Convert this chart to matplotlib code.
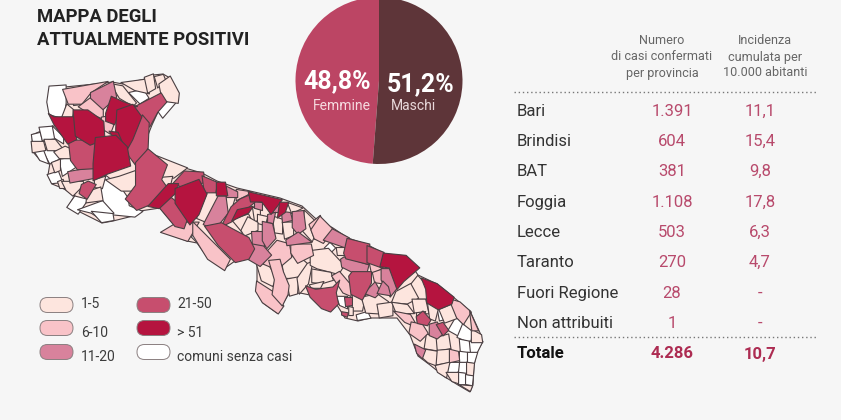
import matplotlib
matplotlib.use('Agg')
from matplotlib import pyplot as plt
from matplotlib.patches import FancyBboxPatch

plt.rcParams['font.family'] = ['Roboto', 'DejaVu Sans']

BG = '#f6f6f6'
MAP_COLORS = ['#ffffff', '#fde5de', '#f9c3c8', '#d8829c', '#c74e6e', '#b5143f']
GROW = 1.14  # traced shapes sit a bit inside their borders

# whole region outline, in pixel units of the picture
regione = [(48,102),(50,88),(65,87),(105,83),(112,82),(123,84),(145,79),(153,75),(163,74),(170,78),(178,93),
           (177,102),(165,104),(158,112),(152,125),(148,135),(147,147),(148,153),(165,167),(185,168),(202,173),
           (217,181),(237,188),(250,191),(280,198),(302,206),(315,218),(333,228),(348,238),(368,245),(385,254),
           (405,256),(418,275),(437,284),(452,296),(470,311),(481,335),(482,343),(477,352),(474,365),(473,385),
           (470,392),(458,385),(445,377),(430,365),(418,356),(410,335),(397,318),(370,318),(358,321),(345,318),
           (337,305),(322,308),(310,295),(300,293),(288,295),(282,305),(277,313),(263,303),(257,292),(257,263),
           (247,258),(235,261),(225,268),(208,258),(197,243),(187,241),(163,232),(175,226),(160,208),(140,211),
           (133,216),(113,221),(102,223),(80,212),(68,207),(75,195),(62,188),(52,184),(48,175),(50,163),(40,160),
           (33,152),(32,135),(50,127),(58,125),(50,115)]

# comuni in pixel units (class = number of cases)
comuni_senza_casi = [
    [(50,88),(65,87),(65,103),(63,117),(50,113),(48,102)],
    [(73,97),(80,98),(82,104),(74,105)],
    [(130,93),(143,90),(148,98),(140,103)],
    [(158,110),(165,102),(175,103),(163,117)],
    [(32,135),(40,133),(42,142),(33,142)],
    [(40,128),(52,127),(55,138),(43,140)],
    [(53,127),(63,137),(63,143),(55,138)],
    [(43,150),(53,150),(60,158),(50,163)],
    [(35,152),(43,150),(48,163),(40,160)],
    [(60,160),(72,158),(75,167),(63,175)],
    [(48,175),(58,172),(62,182),(52,183)],
    [(75,197),(87,200),(78,213),(68,207)],
    [(102,190),(107,178),(120,188),(127,198),(128,205),(140,210),(133,215),(113,213),(103,202)],
    [(80,210),(102,202),(112,213),(103,220),(92,213)],
    [(93,212),(112,214),(113,220),(102,222)],
    [(192,237),(198,230),(202,240),(197,242)],
    [(325,248),(330,243),(335,248),(330,253)],
    [(357,315),(367,312),(370,318),(358,320)],
    [(337,297),(347,297),(347,308),(340,305)],
    [(438,309),(450,304),(448,318),(440,320)],
    [(456,318),(463,325),(458,335),(449,330)],
    [(463,325),(472,332),(470,342),(458,337)],
    [(460,340),(470,342),(470,352),(461,352)],
    [(470,342),(482,342),(477,352),(471,352)],
    [(460,352),(468,353),(468,362),(460,362)],
    [(468,353),(477,353),(474,363),(468,362)],
    [(449,363),(460,363),(458,372),(447,372)],
    [(460,363),(467,363),(466,373),(459,372)],
    [(458,373),(466,374),(466,384),(459,384)],
    [(466,375),(473,376),(472,385),(466,384)],
]
comuni_1_5 = [
    [(112,85),(123,87),(135,102),(132,105),(120,98)],
    [(123,83),(145,80),(148,93),(135,90)],
    [(145,78),(153,75),(155,88),(148,92)],
    [(155,77),(163,75),(165,80),(158,87)],
    [(160,85),(170,78),(178,93),(177,102),(163,100),(162,95)],
    [(62,118),(67,105),(73,110),(72,117)],
    [(32,142),(43,142),(45,150),(33,152)],
    [(45,140),(55,140),(63,150),(48,150)],
    [(55,152),(65,147),(72,150),(70,158),(60,158)],
    [(52,163),(60,160),(60,170),(55,172)],
    [(58,182),(63,180),(65,188),(60,188)],
    [(63,182),(82,182),(83,185),(73,195),(67,190)],
    [(95,180),(105,177),(102,188),(95,187)],
    [(88,192),(100,188),(102,200),(87,202)],
    [(108,180),(120,177),(140,170),(140,185),(132,190),(122,190)],
    [(152,155),(185,168),(173,177),(162,177),(160,167)],
    [(160,178),(172,177),(170,185),(163,187)],
    [(208,193),(218,195),(210,222),(198,217)],
    [(225,197),(235,197),(232,207),(227,213)],
    [(233,220),(248,215),(252,223),(243,232)],
    [(253,208),(260,210),(260,217),(255,222)],
    [(258,215),(267,217),(265,225),(258,223)],
    [(248,218),(257,223),(257,230),(245,235),(242,230)],
    [(273,217),(282,220),(282,233),(275,232)],
    [(283,223),(293,223),(293,235),(285,238)],
    [(288,203),(302,208),(292,213)],
    [(305,212),(315,222),(317,228),(312,240),(303,230)],
    [(257,263),(268,265),(275,278),(272,285),(262,280)],
    [(283,258),(298,257),(307,265),(298,277),(285,277)],
    [(287,280),(298,278),(297,293),(290,295)],
    [(298,278),(307,265),(312,263),(308,283),(300,292)],
    [(312,252),(328,250),(342,265),(337,273),(318,268),(312,265)],
    [(313,270),(330,273),(332,280),(322,283),(313,282)],
    [(310,285),(323,282),(320,288),(312,288)],
    [(337,248),(348,248),(347,255),(338,255)],
    [(353,295),(365,295),(362,310),(353,310)],
    [(363,298),(377,295),(387,302),(383,313),(367,312)],
    [(378,305),(392,303),(392,315),(380,317)],
    [(349,307),(353,308),(353,315),(349,315)],
    [(410,287),(418,277),(425,285),(427,298),(417,298)],
    [(397,292),(410,285),(417,298),(407,303),(393,302)],
    [(393,303),(407,305),(413,313),(397,313)],
    [(413,300),(425,300),(428,313),(415,312)],
    [(428,303),(438,308),(435,320),(430,318)],
    [(417,313),(425,312),(423,318),(417,318)],
    [(440,310),(452,305),(456,318),(445,322)],
    [(472,330),(481,335),(482,342),(472,342)],
    [(427,335),(437,338),(437,350),(425,348)],
    [(437,338),(448,335),(450,348),(438,350)],
    [(425,350),(437,352),(436,365),(428,362),(420,355)],
    [(438,351),(450,350),(449,362),(437,364)],
    [(436,366),(449,363),(446,377),(438,372)],
    [(467,363),(474,364),(473,375),(467,374)],
    [(447,373),(458,373),(458,383),(452,381)],
    [(460,385),(472,386),(470,391)],
]
comuni_6_10 = [
    [(65,90),(105,83),(90,93),(82,103),(70,103)],
    [(80,107),(92,98),(102,107),(102,118),(88,112)],
    [(102,118),(108,117),(113,125),(110,133),(102,128)],
    [(140,155),(148,150),(148,157),(142,158)],
    [(163,232),(178,223),(197,223),(187,240)],
    [(237,190),(250,192),(247,195),(237,200)],
    [(195,225),(217,247),(228,258),(223,268),(208,258),(195,237)],
    [(277,242),(288,245),(290,257),(277,268),(265,263),(268,252)],
    [(292,245),(310,245),(312,255),(298,262),(292,253)],
    [(258,283),(272,292),(282,305),(277,312),(263,302),(257,292)],
    [(270,263),(280,262),(283,273),(288,285),(287,293),(282,303),(273,293),(275,280)],
    [(310,225),(320,217),(325,235),(315,238)],
    [(312,230),(320,218),(332,230),(323,242),(315,238)],
    [(333,277),(340,273),(352,287),(350,295),(343,292)],
    [(370,263),(378,257),(382,268),(372,273)],
    [(373,273),(382,270),(382,283),(375,282)],
    [(450,300),(460,303),(470,312),(463,323),(457,317)],
    [(470,312),(478,330),(472,330)],
    [(395,312),(410,315),(417,327),(405,322)],
    [(412,323),(422,325),(427,333),(420,340),(410,333)],
    [(450,350),(458,352),(459,360),(450,362)],
]
comuni_11_20 = [
    [(92,93),(112,83),(115,97),(103,108),(92,98)],
    [(70,172),(98,167),(100,173),(93,178),(72,182)],
    [(227,187),(237,192),(237,197),(227,197)],
    [(218,198),(225,198),(227,213),(215,228),(205,223)],
    [(255,202),(262,203),(262,210),(255,208)],
    [(273,205),(280,203),(278,212),(273,212)],
    [(268,215),(275,213),(273,223),(268,222)],
    [(252,232),(263,232),(263,245),(253,245)],
    [(263,223),(272,225),(275,238),(267,247),(263,240)],
    [(282,212),(290,213),(292,220),(283,222)],
    [(293,213),(303,212),(305,228),(298,233),(293,227)],
    [(298,233),(310,242),(288,245),(287,240)],
    [(252,245),(263,247),(270,255),(260,265),(248,258)],
    [(325,240),(333,230),(348,238),(345,247)],
    [(342,260),(345,258),(367,265),(365,273),(353,272),(343,267)],
    [(382,270),(390,270),(398,285),(390,295),(382,280)],
    [(365,293),(375,283),(380,292),(375,297)],
    [(378,293),(383,282),(388,287),(390,295)],
    [(430,325),(437,323),(443,333),(437,338),(430,335)],
    [(415,345),(425,350),(422,358),(417,353)],
]
comuni_21_50 = [
    [(135,108),(160,95),(165,103),(157,112),(150,125),(142,118)],
    [(70,142),(97,142),(95,167),(78,168),(72,160)],
    [(142,118),(148,125),(147,147),(138,165),(127,150),(132,137)],
    [(82,185),(88,182),(95,185),(87,198),(80,193)],
    [(137,165),(148,153),(165,167),(160,180),(165,187),(150,202),(138,207),(128,197),(137,185)],
    [(175,183),(185,172),(202,173),(203,182),(187,188)],
    [(160,207),(170,198),(188,213),(183,227),(175,225)],
    [(203,177),(217,183),(215,192),(205,192)],
    [(223,225),(232,207),(240,200),(252,195),(253,203),(233,220)],
    [(208,228),(223,225),(232,230),(247,238),(252,248),(247,257),(235,260),(220,245)],
    [(308,287),(317,290),(332,288),(338,282),(335,293),(337,303),(330,310),(322,307),(312,297)],
    [(350,277),(353,273),(370,273),(370,283),(362,298),(352,293)],
    [(345,253),(348,240),(368,245),(367,263),(347,258)],
    [(368,247),(383,253),(382,267),(368,262)],
    [(342,312),(348,313),(347,317),(342,315)],
    [(345,298),(352,298),(352,305),(346,306)],
    [(417,317),(423,312),(430,320),(427,325),(418,323)],
    [(437,325),(443,323),(448,330),(443,335)],
]
comuni_oltre_51 = [
    [(107,113),(112,98),(123,103),(135,107),(120,110),(115,123),(107,120)],
    [(50,115),(55,118),(73,118),(75,138),(67,142),(60,132),(55,125)],
    [(75,112),(88,112),(102,122),(103,138),(90,143),(77,135)],
    [(118,112),(132,107),(140,118),(132,138),(127,147),(117,135),(117,128)],
    [(110,132),(118,133),(123,145),(117,142)],
    [(97,140),(115,138),(125,148),(128,165),(108,172),(95,178),(95,163)],
    [(150,205),(168,185),(177,185),(175,193),(160,207)],
    [(177,190),(198,182),(205,195),(198,213),(190,222),(177,203)],
    [(217,183),(225,183),(227,195),(217,195)],
    [(233,220),(238,210),(252,207),(248,213)],
    [(250,193),(280,200),(270,213),(262,202),(252,202)],
    [(280,203),(288,203),(285,212),(278,217)],
    [(382,267),(385,255),(405,257),(417,268),(403,280),(397,287),(390,268)],
    [(423,280),(437,285),(452,297),(450,303),(438,308),(428,302),(427,290)],
]
classi_comuni = [comuni_senza_casi, comuni_1_5, comuni_6_10,
                 comuni_11_20, comuni_21_50, comuni_oltre_51]

legend_labels = ['1-5', '6-10', '11-20', '21-50', '> 51', 'comuni senza casi']
legend_classes = [1, 2, 3, 4, 5, 0]

sex_labels = ['Femmine', 'Maschi']
sex_values = [48.8, 51.2]
sex_pct = ['48,8%', '51,2%']

provinces = ['Bari', 'Brindisi', 'BAT', 'Foggia', 'Lecce', 'Taranto', 'Fuori Regione', 'Non attribuiti']
cases = ['1.391', '604', '381', '1.108', '503', '270', '28', '1']
incidence = ['11,1', '15,4', '9,8', '17,8', '6,3', '4,7', '-', '-']
total = ['Totale', '4.286', '10,7']


def grown(poly):
    xs, ys = zip(*poly)
    mx, my = sum(xs) / len(xs), sum(ys) / len(ys)
    return [mx + (x - mx) * GROW for x in xs], [my + (y - my) * GROW for y in ys]


def main():
    fig = plt.figure(figsize=(8.41, 4.20), dpi=100, facecolor=BG)
    ax = fig.add_axes([0, 0, 1, 1])
    ax.set_xlim(0, 841)
    ax.set_ylim(420, 0)
    ax.axis('off')

    # map
    xs, ys = zip(*regione)
    ax.fill(xs, ys, facecolor=MAP_COLORS[1], edgecolor='#4a3f42', linewidth=0.8)
    for cls, polygons in enumerate(classi_comuni):
        for poly in polygons:
            xs, ys = grown(poly)
            ax.fill(xs, ys, facecolor=MAP_COLORS[cls], edgecolor='#4a3f42', linewidth=0.8, joinstyle='round')

    ax.text(37, 21.5, 'MAPPA DEGLI', fontsize=13.3, fontweight='bold', color='#222222', va='baseline')
    ax.text(37, 45, 'ATTUALMENTE POSITIVI', fontsize=13.3, fontweight='bold', color='#222222', va='baseline')

    # legend
    pill_x = [40, 40, 40, 137, 137, 137]
    pill_y = [305, 328, 352, 305, 328, 352]
    label_y = [308, 337, 361, 308, 337, 361]
    for i, label in enumerate(legend_labels):
        ax.add_patch(FancyBboxPatch((pill_x[i], pill_y[i] - 7.5), 33, 15, boxstyle='round,pad=0,rounding_size=7.5',
                                    facecolor=MAP_COLORS[legend_classes[i]],
                                    edgecolor='#8a7f80', linewidth=0.7))
        ax.text(pill_x[i] + (41 if i < 3 else 40), label_y[i], label, fontsize=10, color='#3c3c3c', va='baseline')

    # table
    header_style = dict(fontsize=9.1, color='#666666', ha='center', va='baseline')
    ax.text(662, 44, 'Numero', **header_style)
    ax.text(662, 60.5, 'di casi confermati', **header_style)
    ax.text(662, 76.5, 'per provincia', **header_style)
    ax.text(765, 44, 'Incidenza', **header_style)
    ax.text(765, 60.5, 'cumulata per', **header_style)
    ax.text(765, 76.5, '10.000 abitanti', **header_style)
    ax.plot([514, 816], [92, 92], color='#777777', linewidth=1, linestyle=(0, (1, 2)))
    ax.plot([514, 816], [337, 337], color='#777777', linewidth=1, linestyle=(0, (1, 2)))

    row_y = [116, 146, 176, 207, 237, 267, 298, 328]
    for i, name in enumerate(provinces):
        ax.text(517, row_y[i], name, fontsize=12, color='#333333', va='baseline')
        ax.text(672, row_y[i], cases[i], fontsize=12, color='#b84a6c', ha='center', va='baseline')
        ax.text(760, row_y[i], incidence[i], fontsize=12, color='#b84a6c', ha='center', va='baseline')
    ax.text(517, 358.5, total[0], fontsize=12, fontweight='bold', color='#111111', va='baseline')
    ax.text(672, 358.5, total[1], fontsize=12, fontweight='bold', color='#ad2c52', ha='center', va='baseline')
    ax.text(760, 358.5, total[2], fontsize=12, fontweight='bold', color='#ad2c52', ha='center', va='baseline')

    # pie
    cx, cy, r = 379, 80.5, 83.5
    pie_ax = fig.add_axes([(cx - r) / 841, (420 - cy - r) / 420, 2 * r / 841, 2 * r / 420])
    pie_ax.pie(sex_values, startangle=90, radius=1, colors=['#bc4564', '#5e3539'], wedgeprops={'linewidth': 0})
    pie_ax.set_xlim(-1, 1)
    pie_ax.set_ylim(-1, 1)

    ax2 = fig.add_axes([0, 0, 1, 1], facecolor='none')
    ax2.set_xlim(0, 841)
    ax2.set_ylim(420, 0)
    ax2.axis('off')
    ax2.text(337, 88, sex_pct[0], fontsize=18, fontweight='bold', color='#ffffff', ha='center', va='baseline')
    ax2.text(421, 91, sex_pct[1], fontsize=18, fontweight='bold', color='#ffffff', ha='center', va='baseline')
    ax2.text(342, 110, sex_labels[0], fontsize=10, color='#f6dbe0', ha='center', va='baseline')
    ax2.text(413, 110, sex_labels[1], fontsize=10, color='#e8d8da', ha='center', va='baseline')

    fig.savefig('out.png', dpi=100, facecolor=BG)


if __name__ == '__main__':
    main()
